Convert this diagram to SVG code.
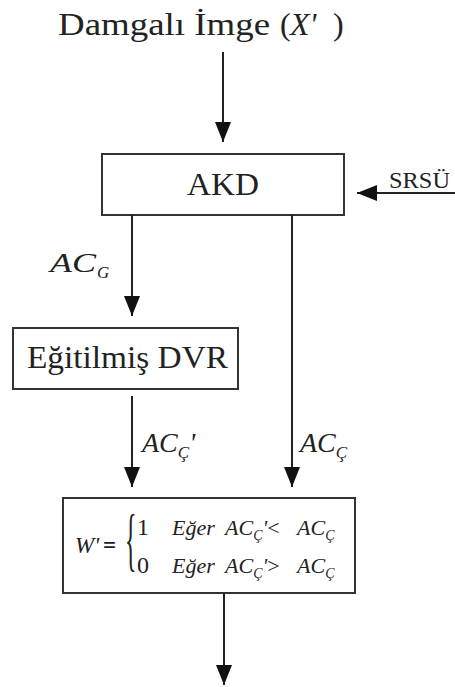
<svg xmlns="http://www.w3.org/2000/svg" width="455" height="687" viewBox="0 0 455 687">
<style>
text{font-family:"Liberation Serif",Tinos,"Noto Serif","DejaVu Serif",FreeSerif,Times,"Times New Roman",serif;fill:#222}
.it{font-style:italic}
.box{fill:#fff;stroke:#333;stroke-width:2}
.con{stroke:#222;stroke-width:2;fill:none}
</style>
<defs>
<marker id="ah" viewBox="0 0 20 16" refX="20" refY="8" markerWidth="20" markerHeight="16" markerUnits="userSpaceOnUse" orient="auto">
<path d="M0,0 L20,8 L0,16 z" fill="#111"/>
</marker>
</defs>
<rect width="455" height="687" fill="#fff"/>
<g id="title">
<text x="58" y="35" font-size="32" textLength="212" lengthAdjust="spacingAndGlyphs">Damgalı İmge</text>
<text x="280" y="35" font-size="32">(</text>
<text x="290" y="35" font-size="32" class="it">X'</text>
<text x="333" y="35" font-size="32">)</text>
</g>
<g id="akd">
<rect class="box" x="102" y="154" width="242" height="61"/>
<text x="187" y="195" font-size="32" textLength="72" lengthAdjust="spacingAndGlyphs">AKD</text>
</g>
<g id="srsu">
<text x="389" y="188" font-size="23" textLength="61" lengthAdjust="spacingAndGlyphs">SRSÜ</text>
</g>
<g id="dvr">
<rect class="box" x="13" y="328" width="225" height="61"/>
<text x="27" y="368" font-size="32" textLength="201" lengthAdjust="spacingAndGlyphs">Eğitilmiş DVR</text>
</g>
<g id="karar">
<rect class="box" x="63" y="498" width="292" height="95" stroke-width="2.5"/>
<text x="75" y="553" font-size="23" class="it">W'</text>
<text x="103" y="553" font-size="23" font-weight="bold">=</text>
<text transform="translate(125,563) scale(1,2.9)" font-size="24">{</text>
<text x="137" y="535" font-size="24">1</text>
<text x="137" y="573" font-size="24">0</text>
<text y="535" font-size="22" class="it"><tspan x="172">Eğer</tspan><tspan x="225">AC</tspan><tspan dy="5" font-size="14">Ç</tspan><tspan dy="-5">'</tspan><tspan font-style="normal">&lt;</tspan><tspan x="297">AC</tspan><tspan dy="5" font-size="14">Ç</tspan></text>
<text y="573" font-size="22" class="it"><tspan x="172">Eğer</tspan><tspan x="225">AC</tspan><tspan dy="5" font-size="14">Ç</tspan><tspan dy="-5">'</tspan><tspan font-style="normal">&gt;</tspan><tspan x="297">AC</tspan><tspan dy="5" font-size="14">Ç</tspan></text>
</g>
<g id="connectors">
<line class="con" x1="223" y1="52" x2="223" y2="142" marker-end="url(#ah)"/>
<line class="con" x1="455" y1="193" x2="357" y2="193" marker-end="url(#ah)"/>
<line class="con" x1="132" y1="215" x2="132" y2="316" marker-end="url(#ah)"/>
<line class="con" x1="292" y1="215" x2="292" y2="487" marker-end="url(#ah)"/>
<line class="con" x1="132" y1="396" x2="132" y2="487" marker-end="url(#ah)"/>
<line class="con" x1="224" y1="593" x2="224" y2="685" marker-end="url(#ah)"/>
</g>
<g id="labels">
<text x="50" y="272" class="it" font-size="27" textLength="46" lengthAdjust="spacingAndGlyphs">AC</text>
<text x="97" y="278" class="it" font-size="17">G</text>
<text y="452" class="it" font-size="28"><tspan x="142">AC</tspan><tspan dy="6" font-size="17">Ç</tspan><tspan dy="-6">'</tspan></text>
<text y="452" class="it" font-size="28"><tspan x="300">AC</tspan><tspan dy="6" font-size="17">Ç</tspan></text>
</g>
</svg>
